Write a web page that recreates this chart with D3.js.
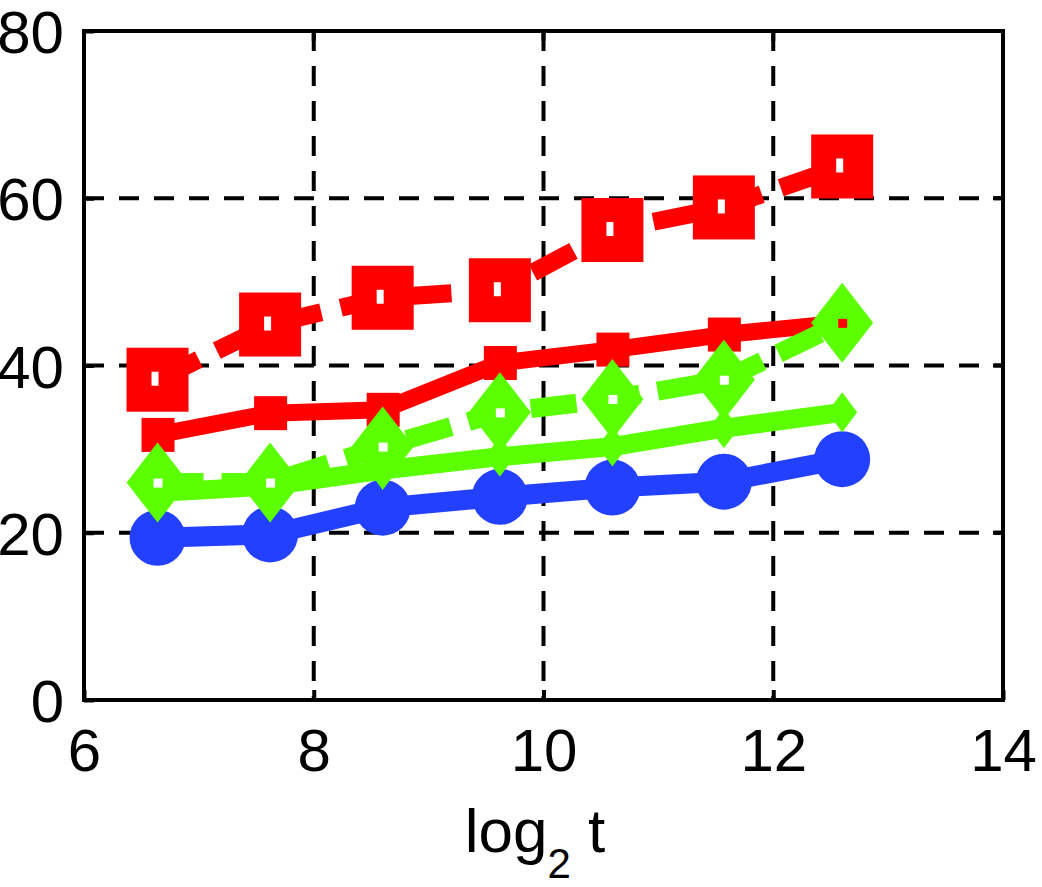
<!DOCTYPE html>
<html><head><meta charset="utf-8">
<script src="https://cdn.jsdelivr.net/npm/d3@7"></script>
<style>body{margin:0;background:#fff}svg{display:block}text{font-family:"Liberation Sans",Arial,sans-serif}</style>
</head><body><svg id="c" width="1042" height="887"></svg>
<script>
const xVals = [6.64, 7.62, 8.6, 9.62, 10.6, 11.57, 12.6];
const redDashed = [38.3, 44.9, 48.1, 49.0, 56.2, 58.9, 63.8];
const redSolid = [31.7, 34.3, 34.7, 40.3, 41.9, 43.7, 45.1];
const greenDashed = [26.0, 26.0, 30.3, 34.4, 36.0, 38.3, 45.1];
const greenSolid = [24.8, 25.6, 27.5, 29.1, 30.3, 32.5, 34.4];
const blueSolid = [19.4, 19.8, 23.0, 24.3, 25.4, 26.1, 28.8];
const xTicks = [6, 8, 10, 12, 14];
const yTicks = [0, 20, 40, 60, 80];

const svg = d3.select("#c");
const L = 84, R = 1003, T = 31, B = 700;
const x = d3.scaleLinear().domain([6, 14]).range([L, R]);
const y = d3.scaleLinear().domain([0, 80]).range([B, T]);

// grid
const grid = svg.append("g").attr("stroke", "#000").attr("stroke-width", 4).attr("stroke-dasharray", "20,15");
grid.selectAll("line.v").data(xTicks.filter(d => d > 6 && d < 14)).join("line")
  .attr("x1", d => x(d)).attr("x2", d => x(d)).attr("y1", T).attr("y2", B);
grid.selectAll("line.h").data(yTicks.filter(d => d > 0 && d < 80)).join("line")
  .attr("x1", L).attr("x2", R).attr("y1", d => y(d)).attr("y2", d => y(d));

// axes with labels
const xAxis = d3.axisBottom(x).tickValues(xTicks).tickSize(-10).tickPadding(28).tickFormat(d3.format("d"));
const yAxis = d3.axisLeft(y).tickValues(yTicks).tickSize(-10).tickPadding(20).tickFormat(d3.format("d"));
const gx = svg.append("g").attr("transform", `translate(0,${B})`).call(xAxis);
const gy = svg.append("g").attr("transform", `translate(${L},0)`).call(yAxis);
[gx, gy].forEach(g => {
  g.select(".domain").remove();
  g.selectAll("line").attr("stroke", "#000").attr("stroke-width", 4);
  g.selectAll("text").attr("font-size", 60).attr("fill", "#000").attr("font-family", '"Liberation Sans", Arial, sans-serif');
});
gy.selectAll("text").attr("dy", "0.36em");
// right and top inner ticks
svg.append("g").selectAll("line").data(yTicks).join("line")
  .attr("x1", R).attr("x2", R - 10).attr("y1", d => y(d)).attr("y2", d => y(d))
  .attr("stroke", "#000").attr("stroke-width", 4);
svg.append("g").selectAll("line").data(xTicks).join("line")
  .attr("x1", d => x(d)).attr("x2", d => x(d)).attr("y1", T).attr("y2", T + 10)
  .attr("stroke", "#000").attr("stroke-width", 4);

const line = d3.line().x((d, i) => x(xVals[i])).y(d => y(d));
const RED = "#ff0000", GREEN = "#5cff00", BLUE = "#2440ff";
const diamond = (cx, cy, hw, hh) => `M${cx},${cy - hh}L${cx + hw},${cy}L${cx},${cy + hh}L${cx - hw},${cy}Z`;

function drawLine(vals, color, w, dash) {
  svg.append("path").datum(vals).attr("d", line).attr("fill", "none")
    .attr("stroke", color).attr("stroke-width", w).attr("stroke-linejoin", "round")
    .attr("stroke-dasharray", dash || null);
}

// blue circles
drawLine(blueSolid, BLUE, 20);
svg.append("g").selectAll("circle").data(blueSolid).join("circle")
  .attr("cx", (d, i) => x(xVals[i])).attr("cy", d => y(d)).attr("r", 28).attr("fill", BLUE);

// red dashed squares
drawLine(redDashed, RED, 18, "46,20");
svg.append("g").selectAll("rect").data(redDashed).join("rect")
  .attr("x", (d, i) => x(xVals[i]) - 31).attr("y", d => y(d) - 32).attr("width", 62).attr("height", 64)
  .attr("fill", RED);
svg.append("g").selectAll("rect").data(redDashed).join("rect")
  .attr("x", (d, i) => x(xVals[i]) - 6).attr("y", d => y(d) - 8).attr("width", 7).attr("height", 14)
  .attr("fill", "#fff");

// red solid with small squares
drawLine(redSolid, RED, 17);
svg.append("g").selectAll("rect").data(redSolid).join("rect")
  .attr("x", (d, i) => x(xVals[i]) - 16).attr("y", d => y(d) - 17).attr("width", 33).attr("height", 34)
  .attr("fill", RED);

// green solid with small diamonds
drawLine(greenSolid, GREEN, 19);
svg.append("g").selectAll("path").data(greenSolid).join("path")
  .attr("d", (d, i) => diamond(x(xVals[i]), y(d), 15, 20)).attr("fill", GREEN);

// green dashed diamonds
drawLine(greenDashed, GREEN, 19, "46,18");
svg.append("g").selectAll("path").data(greenDashed).join("path")
  .attr("d", (d, i) => diamond(x(xVals[i]), y(d), 31, 40)).attr("fill", GREEN);
svg.append("g").selectAll("rect").data(greenDashed).join("rect")
  .attr("x", (d, i) => x(xVals[i]) - 4).attr("y", d => y(d) - 4).attr("width", 9).attr("height", 9)
  .attr("fill", (d, i) => i === 6 ? RED : "#fff");

// frame
svg.append("rect").attr("x", L).attr("y", T).attr("width", R - L).attr("height", B - T)
  .attr("fill", "none").attr("stroke", "#000").attr("stroke-width", 4);

// x label
const lab = svg.append("text").attr("x", 535).attr("y", 852).attr("text-anchor", "middle")
  .attr("font-size", 62).attr("fill", "#000");
lab.append("tspan").text("log");
lab.append("tspan").attr("font-size", 42).attr("dy", 26).text("2");
lab.append("tspan").attr("dy", -26).text(" t");
</script></body></html>
